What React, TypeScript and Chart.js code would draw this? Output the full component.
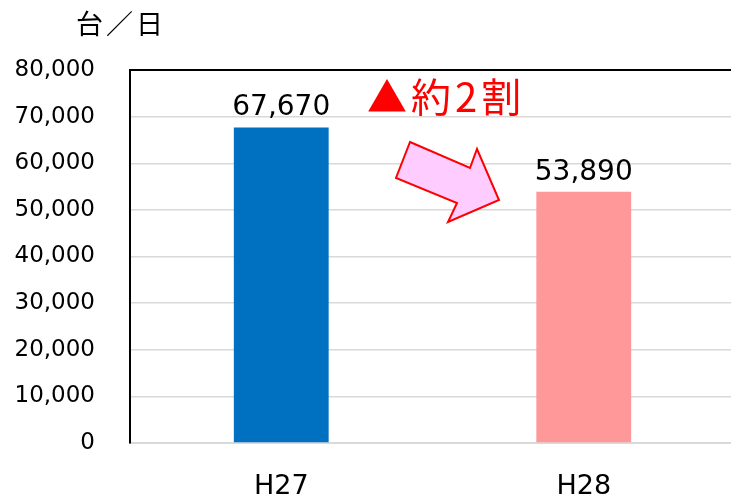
import React, { useEffect, useRef } from "react";
import { Chart, registerables } from "chart.js";

Chart.register(...registerables);

const categories = ["H27", "H28"];
const values = [67670, 53890];
const barColors = ["#0070C0", "#FF9999"];
const yMin = 0;
const yMax = 80000;
const yStep = 10000;
const unitLabel = "台／日";
const changeLabel = "▲約2割";

const fmt = (v: number) => v.toLocaleString("en-US");

const decorPlugin = {
  id: "decor",
  afterDraw(chart: any) {
    const { ctx, chartArea } = chart;
    ctx.save();
    // top frame line
    ctx.strokeStyle = "#000";
    ctx.lineWidth = 2;
    ctx.beginPath();
    ctx.moveTo(chartArea.left, chartArea.top);
    ctx.lineTo(chartArea.right, chartArea.top);
    ctx.stroke();

    // data labels
    const meta = chart.getDatasetMeta(0);
    ctx.fillStyle = "#000";
    ctx.font = "28px 'DejaVu Sans'";
    ctx.textAlign = "center";
    ctx.textBaseline = "alphabetic";
    meta.data.forEach((bar: any, i: number) => {
      ctx.fillText(fmt(values[i]), bar.x, bar.y - 12);
    });

    // unit label
    ctx.font = "27px 'Noto Sans CJK JP'";
    ctx.textAlign = "left";
    ctx.textBaseline = "middle";
    (ctx as any).letterSpacing = "3px";
    ctx.fillText(unitLabel, 76, 24);

    // change label
    ctx.fillStyle = "#FF0000";
    ctx.font = "40px 'Noto Sans CJK JP'";
    (ctx as any).letterSpacing = "4px";
    ctx.fillText(changeLabel, 367, 97);
    (ctx as any).letterSpacing = "0px";

    // arrow
    const pts = [
      [410, 142],
      [470, 168],
      [477, 149],
      [499, 200],
      [448, 222],
      [457, 203],
      [396, 178],
    ];
    ctx.beginPath();
    pts.forEach((p, i) => (i === 0 ? ctx.moveTo(p[0], p[1]) : ctx.lineTo(p[0], p[1])));
    ctx.closePath();
    ctx.fillStyle = "#FFCCFF";
    ctx.fill();
    ctx.strokeStyle = "#FF0000";
    ctx.lineWidth = 2;
    ctx.lineJoin = "miter";
    ctx.stroke();
    ctx.restore();
  },
};

export default function App() {
  const ref = useRef<HTMLCanvasElement | null>(null);
  useEffect(() => {
    if (!ref.current) return;
    const chart = new Chart(ref.current, {
      type: "bar",
      data: {
        labels: categories,
        datasets: [
          {
            data: values,
            backgroundColor: barColors,
            borderWidth: 0,
            barPercentage: 0.3135,
            categoryPercentage: 1,
          },
        ],
      },
      options: {
        animation: false,
        responsive: false,
        devicePixelRatio: 1,
        layout: { padding: { top: 70, right: 1, left: 0, bottom: 0 } },
        plugins: { legend: { display: false }, tooltip: { enabled: false } },
        scales: {
          x: {
            grid: { display: false, drawTicks: false },
            border: { color: "#D9D9D9", width: 2 },
            ticks: {
              color: "#000",
              font: { family: "'DejaVu Sans'", size: 27 },
              padding: 28,
            },
            afterFit: (s: any) => {
              s.height = 54;
            },
          },
          y: {
            min: yMin,
            max: yMax,
            grid: { color: "#D9D9D9", lineWidth: 1.5, drawTicks: false },
            border: { color: "#000", width: 2 },
            ticks: {
              stepSize: yStep,
              color: "#000",
              font: { family: "'DejaVu Sans'", size: 23 },
              padding: 35,
              callback: (v: any) => fmt(Number(v)),
            },
            afterFit: (s: any) => {
              s.width = 130;
            },
          },
        },
      },
      plugins: [decorPlugin],
    });
    return () => chart.destroy();
  }, []);
  return (
    <div
      style={{
        position: "absolute",
        left: 0,
        top: 0,
        width: 731,
        height: 497,
        overflow: "hidden",
        background: "#fff",
      }}
    >
      <canvas ref={ref} width={736} height={497} style={{ display: "block" }} />
    </div>
  );
}
